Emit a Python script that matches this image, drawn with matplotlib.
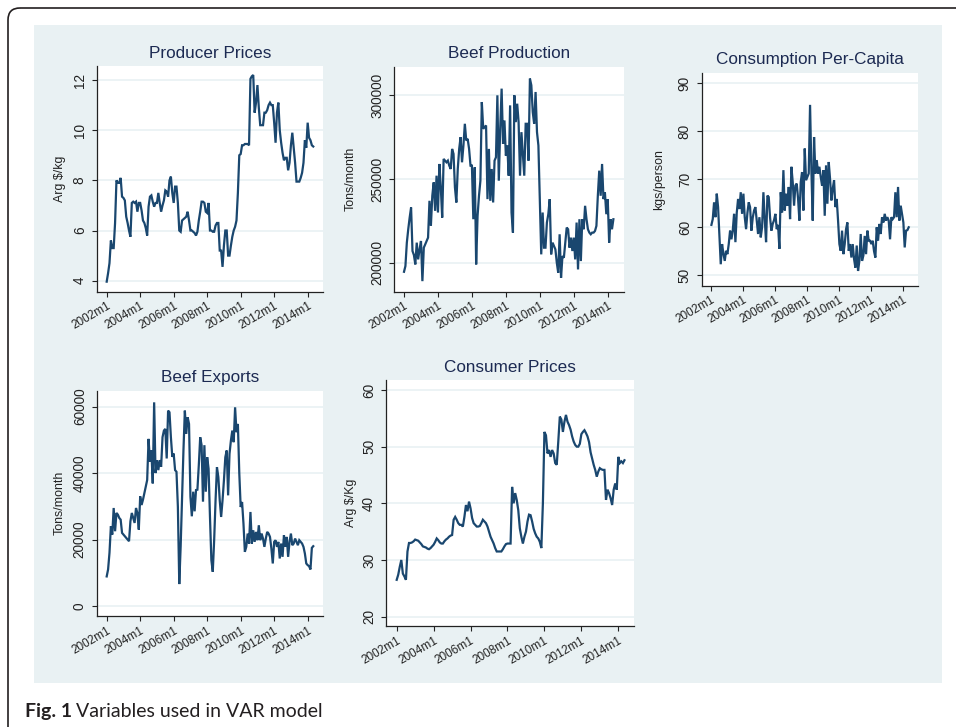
import numpy as np
import matplotlib
matplotlib.use("Agg")
import matplotlib.pyplot as plt
from matplotlib.patches import FancyBboxPatch, Rectangle

# monthly series, 2002m1 .. 2014m5 (one row per year)
producer_prices = [
    3.96, 4.3, 4.7, 5.6, 5.3, 5.3, 6.3, 8.0, 7.9, 7.9, 8.1, 7.35,
    7.3, 7.2, 6.55, 6.3, 6.0, 5.75, 7.1, 7.15, 7.1, 7.15, 6.75, 7.1,
    7.1, 6.8, 6.4, 6.3, 6.1, 5.8, 6.95, 7.35, 7.4, 7.15, 6.95, 7.1,
    7.1, 7.5, 7.1, 6.75, 7.0, 7.2, 7.6, 7.55, 7.35, 8.0, 8.15, 7.5,
    7.1, 7.75, 7.75, 7.1, 6.0, 5.95, 6.4, 6.45, 6.5, 6.55, 6.75, 6.4,
    6.0, 6.0, 5.95, 5.9, 5.8, 5.95, 6.4, 6.75, 7.15, 7.15, 7.1, 6.75,
    6.7, 7.1, 6.0, 6.0, 5.95, 5.95, 6.2, 6.3, 6.3, 5.2, 5.2, 4.55,
    5.4, 6.0, 6.0, 5.0, 5.0, 5.4, 5.75, 6.0, 6.15, 6.4, 7.5, 9.0,
    9.05, 9.4, 9.4, 9.45, 9.45, 9.45, 9.4, 12.05, 12.15, 12.2, 10.7, 11.1,
    11.8, 10.9, 10.2, 10.2, 10.2, 10.7, 10.7, 10.8, 11.0, 11.1, 11.0, 11.0,
    10.3, 9.5, 10.7, 11.1, 10.0, 9.5, 9.1, 8.8, 8.9, 8.9, 8.4, 8.7,
    9.4, 9.9, 9.3, 8.7, 7.95, 7.95, 7.95, 8.1, 8.3, 8.7, 9.6, 9.3,
    10.3, 9.7, 9.6, 9.4, 9.35,
]

# thousand tons / month
beef_production_k = [
    194.6, 198, 212, 220, 227, 233, 207, 204.6, 199, 212, 202, 208,
    213, 189, 209, 211, 213, 215, 237, 222, 240, 248, 231, 252,
    230, 259, 245, 227, 262, 261, 260, 261, 258, 256, 268, 265,
    245, 236, 256, 268, 275, 260, 270, 283, 273, 274, 268, 258,
    258, 226, 257, 199, 228, 240, 249, 296, 280, 281, 282, 238,
    268, 237, 256, 236, 261, 263, 300, 249, 280, 304, 271, 285,
    264, 270, 252, 294, 230, 218, 300, 284, 295, 284, 252, 278,
    265, 252, 283, 283, 261, 310, 306, 290, 283, 302, 278, 270,
    238, 205, 230, 209, 209, 224, 229, 238, 205, 212, 210, 208,
    200, 194, 217, 191, 204, 203, 212, 221, 220, 209, 215, 207,
    215, 202, 224, 196, 226, 201, 226, 220, 234, 226, 220, 218,
    217, 218, 218, 219, 222, 240, 255, 240, 259, 238, 242, 229,
    238, 212, 226, 220, 226,
]

consumption = [
    60.5, 61.7, 65.2, 62.1, 67.0, 64.2, 58.0, 52.3, 56.5, 54.5, 53.0, 55.1,
    54.4, 56.5, 59.3, 57.5, 59.3, 62.8, 56.9, 63.0, 65.9, 63.8, 67.3, 62.8,
    67.0, 62.1, 59.6, 63.0, 65.2, 64.2, 59.3, 62.0, 63.5, 64.2, 61.4, 58.6,
    62.1, 57.9, 60.0, 67.3, 61.7, 56.9, 66.6, 66.3, 62.0, 59.3, 60.7, 61.5,
    62.8, 59.6, 60.5, 55.5, 67.3, 63.1, 71.9, 63.5, 67.0, 64.5, 68.4, 61.7,
    72.6, 69.4, 64.5, 68.7, 69.1, 66.0, 61.4, 69.4, 71.5, 63.5, 76.4, 69.8,
    70.5, 71.2, 85.5, 71.9, 61.4, 78.8, 71.2, 74.0, 71.2, 72.6, 70.5, 68.7,
    71.9, 62.4, 72.9, 64.9, 73.6, 70.1, 65.6, 68.0, 69.8, 64.2, 65.9, 61.4,
    56.5, 55.1, 59.3, 54.4, 56.5, 59.6, 61.0, 55.1, 56.5, 53.7, 56.5, 53.4,
    51.6, 56.2, 50.9, 53.0, 58.6, 53.0, 54.1, 58.2, 54.4, 59.3, 57.2, 57.2,
    56.5, 57.2, 55.0, 53.7, 60.0, 57.2, 60.7, 58.6, 62.1, 61.0, 62.8, 61.4,
    62.1, 61.4, 57.5, 62.1, 61.7, 62.1, 67.3, 62.1, 68.4, 61.4, 64.5, 62.8,
    61.0, 55.8, 59.3, 59.4, 60.0,
]

# thousand tons / month
beef_exports_k = [
    8.9, 11.0, 16.0, 24.0, 21.5, 29.5, 22.5, 28.0, 27.5, 26.5, 26.0, 22.0,
    21.5, 21.0, 20.5, 20.0, 19.5, 25.5, 28.0, 26.5, 25.0, 29.5, 28.0, 23.0,
    33.0, 30.4, 32.0, 34.0, 36.0, 37.9, 50.3, 43.4, 46.9, 36.9, 61.3, 40.0,
    43.9, 40.9, 43.9, 41.9, 50.8, 52.8, 53.3, 44.4, 58.8, 58.3, 50.8, 44.9,
    45.9, 40.9, 40.4, 29.9, 6.6, 18.0, 32.9, 46.9, 58.8, 51.8, 56.8, 54.8,
    32.9, 27.0, 34.4, 28.5, 34.9, 35.0, 42.4, 50.8, 48.4, 31.4, 48.4, 34.4,
    44.8, 41.3, 26.8, 13.8, 10.3, 19.8, 31.8, 41.8, 38.8, 31.8, 26.8, 31.8,
    37.8, 44.8, 46.8, 33.3, 45.8, 49.8, 52.8, 49.3, 59.8, 52.3, 54.8, 40.0,
    29.8, 31.3, 24.8, 16.3, 17.8, 21.8, 18.8, 28.3, 18.8, 22.8, 19.3, 22.3,
    19.8, 24.3, 19.8, 21.8, 20.3, 17.8, 20.3, 22.3, 21.8, 20.8, 17.3, 12.8,
    19.3, 19.8, 17.8, 19.3, 14.3, 18.8, 14.8, 21.3, 17.8, 20.8, 14.8, 19.3,
    21.8, 18.3, 18.8, 20.3, 19.3, 18.3, 19.8, 19.3, 18.8, 17.8, 15.8, 12.8,
    12.3, 12.0, 11.0, 17.5, 18.0,
]

consumer_prices = [
    26.5, 27.4, 28.8, 30.0, 27.6, 27.1, 26.5, 31.5, 33.0, 33.0, 33.1, 33.3,
    33.6, 33.5, 33.4, 33.1, 32.8, 32.4, 32.3, 32.2, 32.0, 31.9, 32.1, 32.4,
    32.7, 33.2, 33.8, 33.5, 33.1, 32.9, 32.9, 33.3, 33.6, 33.8, 34.1, 34.3,
    34.4, 37.1, 37.6, 37.1, 36.5, 36.2, 36.2, 35.9, 37.6, 39.7, 38.6, 40.3,
    39.1, 37.4, 36.5, 36.2, 35.9, 35.9, 36.0, 36.5, 37.1, 36.8, 36.5, 35.9,
    35.0, 34.1, 33.5, 32.9, 32.1, 31.5, 31.5, 31.5, 31.5, 31.9, 32.4, 32.8,
    32.9, 32.9, 32.9, 42.9, 40.0, 41.8, 40.6, 38.8, 35.6, 34.1, 32.9, 34.1,
    35.0, 36.8, 38.0, 37.9, 36.8, 35.5, 34.7, 34.1, 33.8, 33.2, 32.1, 40.0,
    52.6, 52.0, 48.8, 49.4, 48.2, 49.4, 48.8, 47.1, 46.8, 50.9, 55.3, 54.8,
    52.6, 54.4, 55.6, 54.4, 53.8, 53.0, 51.8, 50.9, 50.3, 50.0, 50.0, 50.5,
    52.2, 52.6, 52.9, 52.4, 51.8, 50.8, 49.0, 47.9, 46.8, 45.9, 44.7, 45.6,
    46.2, 46.0, 45.9, 45.9, 40.6, 42.4, 41.8, 40.9, 39.7, 42.4, 43.5, 42.4,
    48.2, 47.1, 47.4, 47.1, 47.6,
]

year_labels = ["2002m1", "2004m1", "2006m1", "2008m1", "2010m1", "2012m1", "2014m1"]

W, H = 956, 727
LINE = "#1a476f"
BG = "#e9f1f3"
TITLE_C = "#1c2a52"

plt.rcParams["font.family"] = ["Liberation Sans", "DejaVu Sans"]

fig = plt.figure(figsize=(W / 100, H / 100), dpi=100)

# background layer in pixel coordinates
bg = fig.add_axes([0, 0, 1, 1], zorder=-5)
bg.set_xlim(0, W)
bg.set_ylim(H, 0)
bg.axis("off")
bg.add_patch(Rectangle((34, 25), 908, 658, facecolor=BG, lw=0))
bg.add_patch(FancyBboxPatch((8, 8), 1000, 760, boxstyle="round,pad=0,rounding_size=12",
                            fill=False, ec="#231f20", lw=1.2))

months = np.arange(len(producer_prices))

panels = [
    # title, ylabel, values, box px (l, t, r, b), xlim, ylim, yticks
    ("Producer Prices", "Arg $/kg", np.array(producer_prices),
     (96.7, 66, 323.3, 291.7), (-7.16, 155.2), (3.56, 12.56), [4, 6, 8, 10, 12]),
    ("Beef Production", "Tons/month", np.array(beef_production_k) * 1000,
     (394.3, 66.7, 624, 291.7), (-6.86, 155.5), (182700, 317100), [200000, 250000, 300000]),
    ("Consumption Per-Capita", "kgs/person", np.array(consumption),
     (701.7, 72.7, 918.3, 285.7), (-7.29, 155.2), (47.83, 92.2), [50, 60, 70, 80, 90]),
    ("Beef Exports", "Tons/month", np.array(beef_exports_k) * 1000,
     (96.7, 390.7, 323.3, 616), (-7.16, 155.2), (-3010, 64800), [0, 20000, 40000, 60000]),
    ("Consumer Prices", "Arg $/Kg", np.array(consumer_prices),
     (386, 380, 634.3, 626), (-6.95, 154.4), (18.35, 61.76), [20, 30, 40, 50, 60]),
]

ylabel_off = [37, 43.6, 42.7, 37.4, 35.3]

for (title, ylab, vals, box, xlim, ylim, yticks), yoff in zip(panels, ylabel_off):
    l, t, r, b = box
    ax = fig.add_axes([l / W, 1 - b / H, (r - l) / W, (b - t) / H])
    ax.set_facecolor("white")
    ax.plot(months, vals, color=LINE, lw=1.6, solid_joinstyle="miter", zorder=3)
    ax.set_xlim(*xlim)
    ax.set_ylim(*ylim)
    ax.set_xticks(range(0, 145, 24))
    ax.set_xticklabels(year_labels, rotation=30, ha="right", rotation_mode="anchor",
                       fontsize=8.5, color="#222222")
    ax.set_yticks(yticks)
    ax.set_yticklabels([str(v) for v in yticks], rotation=90, va="center",
                       fontsize=9.8, color="#222222")
    ax.tick_params(axis="both", length=3.6, width=0.8, color="#222222")
    ax.tick_params(axis="x", pad=2.5)
    ax.tick_params(axis="y", pad=3.5)
    for s in ["top", "right"]:
        ax.spines[s].set_visible(False)
    for s in ["left", "bottom"]:
        ax.spines[s].set_color("#222222")
        ax.spines[s].set_linewidth(0.9)
    ax.grid(axis="y", color=BG, lw=1.2, zorder=0)
    ax.set_axisbelow(True)
    w_px, h_px = r - l, b - t
    ax.text(0.5, 1 + 13 / h_px, title, transform=ax.transAxes, ha="center", va="center",
            fontsize=12.3, color=TITLE_C)
    ax.text(-yoff / w_px, 0.5, ylab, transform=ax.transAxes, rotation=90,
            ha="center", va="center", fontsize=8.9, color="#222222")

# caption
cap1 = bg.text(25, 717, "Fig. 1", fontsize=14, fontweight="bold", family="Lato",
               color="#231f20", va="baseline")
fig.canvas.draw()
ext = cap1.get_window_extent()
x_end = bg.transData.inverted().transform((ext.x1, ext.y0))[0]
bg.text(x_end + 4, 717, "Variables used in VAR model", fontsize=14, family="Lato",
        color="#231f20", va="baseline")

fig.savefig("out.png", dpi=100)
